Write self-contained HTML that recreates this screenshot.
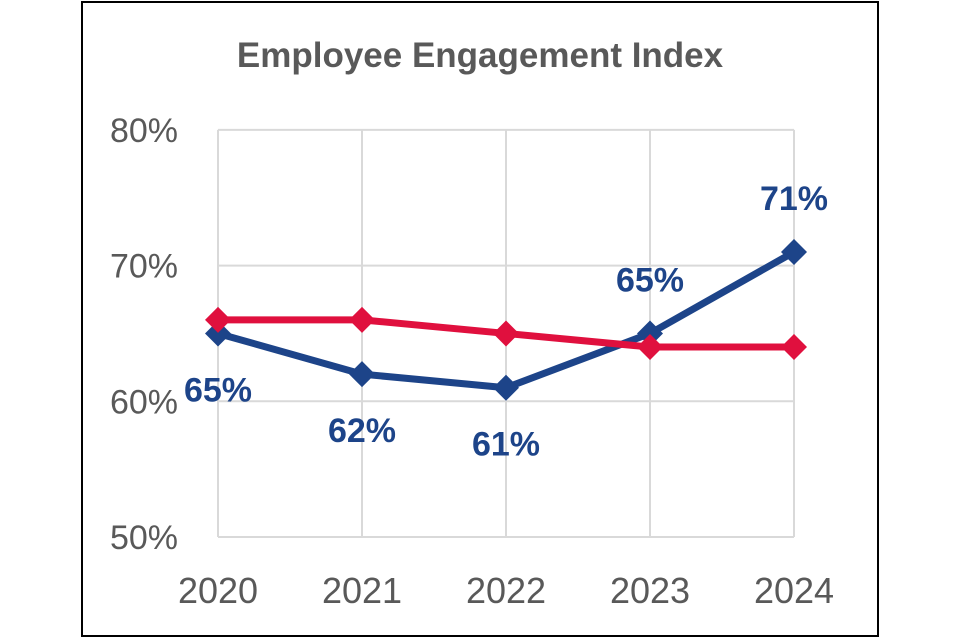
<!DOCTYPE html>
<html><head><meta charset="utf-8"><style>
html,body{margin:0;padding:0;background:#fff;width:960px;height:640px;overflow:hidden}
svg{display:block}
</style></head><body>
<svg id="chart" width="960" height="640" xmlns="http://www.w3.org/2000/svg">
<rect x="82" y="2" width="796" height="634" fill="#fff" stroke="#000" stroke-width="2"/>
<text x="480" y="67" text-anchor="middle" font-family="Liberation Sans, sans-serif" font-weight="bold" font-size="35" fill="#595959">Employee Engagement Index</text>
<g id="grid"></g><g id="series"></g><g id="labels"></g>
</svg>
<script>
const years = ["2020","2021","2022","2023","2024"];
const yTicks = [50,60,70,80];
const blueValues = [65,62,61,65,71];
const redValues = [66,66,65,64,64];
const blueLabelPos = ["below","below","below","above","above"];

const NS="http://www.w3.org/2000/svg";
const x0=218, dx=144, yBase=537, pxPer=13.57;
const X=i=>x0+i*dx;
const Y=v=>yBase-(v-50)*pxPer;
function mk(tag,attrs,parent){const e=document.createElementNS(NS,tag);for(const k in attrs)e.setAttribute(k,attrs[k]);parent.appendChild(e);return e;}
const grid=document.getElementById('grid'), ser=document.getElementById('series'), lab=document.getElementById('labels');

yTicks.forEach(t=>{
  const l=mk('line',{x1:X(0),x2:X(years.length-1),y1:Y(t),y2:Y(t),stroke:'#d9d9d9','stroke-width':2},grid);
  
  
  const tx=mk('text',{x:178,y:Y(t)+12,'text-anchor':'end','font-family':'Liberation Sans, sans-serif','font-size':34,fill:'#595959'},grid);
  tx.textContent=t+'%';
  
  
});
years.forEach((yr,i)=>{
  const l=mk('line',{x1:X(i),x2:X(i),y1:Y(80),y2:Y(50),stroke:'#d9d9d9','stroke-width':2},grid);
  
  
  const tx=mk('text',{x:X(i),y:603,'text-anchor':'middle','font-family':'Liberation Sans, sans-serif','font-size':36,fill:'#595959'},grid);
  tx.textContent=yr;
  
  
});
function drawSeries(vals,color,name){
  const pl=mk('polyline',{points:vals.map((v,i)=>X(i)+','+Y(v)).join(' '),fill:'none',stroke:color,'stroke-width':7,'stroke-linejoin':'round'},ser);
  
  
  vals.forEach((v,i)=>{
    const cx=X(i),cy=Y(v),s=13;
    const d=mk('polygon',{points:`${cx},${cy-s} ${cx+s},${cy} ${cx},${cy+s} ${cx-s},${cy}`,fill:color},ser);
    
    
  });
}
drawSeries(blueValues,'#1d4489','blue-series');
drawSeries(redValues,'#e0103e','red-series');
blueValues.forEach((v,i)=>{
  const yy=blueLabelPos[i]==='below'?Y(v)+68:Y(v)-42;
  const tx=mk('text',{x:X(i),y:yy,'text-anchor':'middle','font-family':'Liberation Sans, sans-serif','font-weight':'bold','font-size':34,fill:'#1d4489'},lab);
  tx.textContent=v+'%';
  
  
});
</script>
</body></html>
